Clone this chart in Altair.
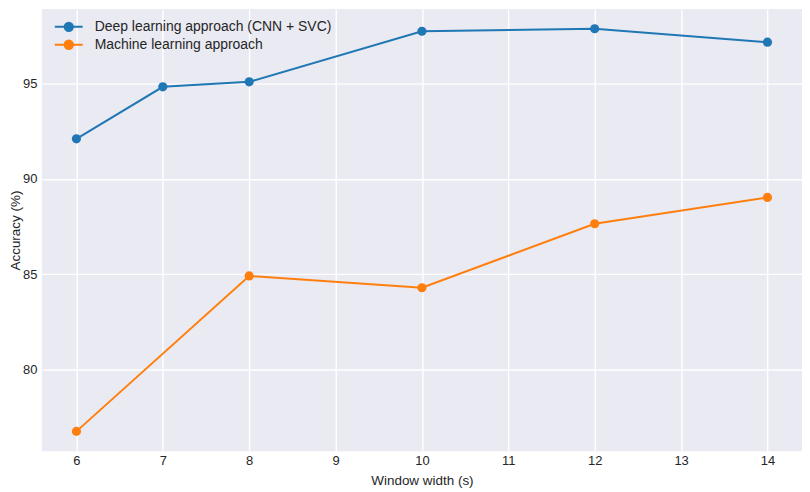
import altair as alt
import pandas as pd

window = [6, 7, 8, 10, 12, 14]
deep = [92.1, 94.82, 95.08, 97.73, 97.86, 97.16]
window_ml = [6, 8, 10, 12, 14]
machine = [76.78, 84.92, 84.3, 87.65, 89.03]
series_names = ["Deep learning approach (CNN + SVC)", "Machine learning approach"]
colors = ["#1f77b4", "#ff7f0e"]

df = pd.concat([
    pd.DataFrame({"w": window, "acc": deep, "series": series_names[0]}),
    pd.DataFrame({"w": window_ml, "acc": machine, "series": series_names[1]}),
])

# legend symbol: a line with a circle marker in the middle
sym = "M-2,0L2,0M-0.6,0A0.6,0.6,0,1,0,0.6,0A0.6,0.6,0,1,0,-0.6,0Z"

chart = alt.Chart(df).mark_line(
    strokeWidth=2,
    point=alt.OverlayMarkDef(filled=True, size=85, opacity=1),
).encode(
    x=alt.X("w:Q", title="Window width (s)",
            scale=alt.Scale(domain=[5.6, 14.4], nice=False, zero=False),
            axis=alt.Axis(values=list(range(6, 15)), format="d")),
    y=alt.Y("acc:Q", title="Accuracy (%)",
            scale=alt.Scale(domain=[75.74, 98.9], nice=False, zero=False),
            axis=alt.Axis(values=[80, 85, 90, 95])),
    color=alt.Color("series:N",
                    scale=alt.Scale(domain=series_names, range=colors),
                    legend=alt.Legend(title=None, orient="none", legendX=19, legendY=10,
                                      symbolType=sym, symbolSize=196,
                                      symbolStrokeWidth=2, labelFontSize=14,
                                      labelFont="Liberation Sans", labelColor="#262626",
                                      labelLimit=500, rowPadding=0, labelOffset=18,
                                      padding=0)),
).properties(
    width=763, height=444,
    autosize=alt.AutoSizeParams(type="none"),
    padding={"left": 34, "top": 0, "right": 0, "bottom": 40},
).configure_view(
    fill="#EAEAF2", stroke=None,
).configure_axis(
    grid=True, gridColor="white", gridWidth=1.4, domain=False, ticks=False,
    labelFont="Liberation Sans", labelFontSize=13, labelColor="#262626",
    titleFont="Liberation Sans", titleFontSize=13.5, titleColor="#262626",
    titleFontWeight="normal",
).configure_axisX(
    labelPadding=3, titlePadding=6,
).configure_axisY(
    labelPadding=5, titlePadding=0,
)

chart.save("out.html", embed_options={"renderer": "svg", "actions": False})
